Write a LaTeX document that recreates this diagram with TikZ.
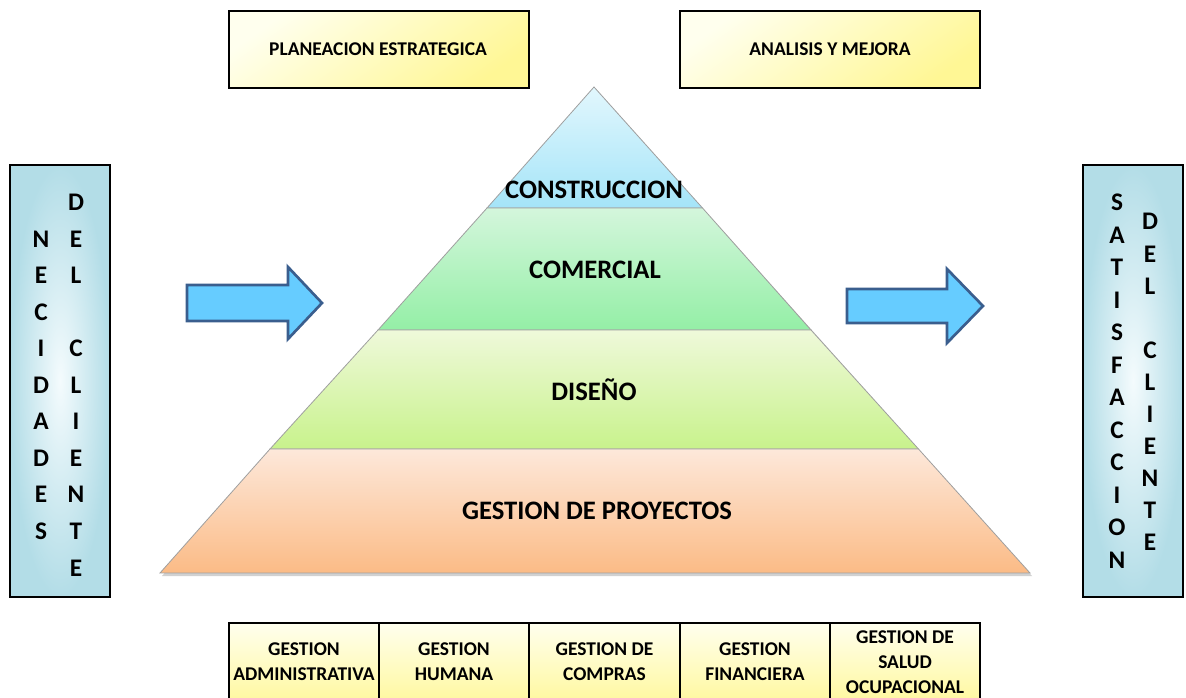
\documentclass[tikz,border=0pt]{standalone}
\usepackage{fontspec}
\setmainfont{Carlito}
\definecolor{yLight}{HTML}{FFFFEE}
\definecolor{yDeep}{HTML}{FFF795}
\definecolor{sideIn}{HTML}{F4FBFD}
\definecolor{sideOut}{HTML}{B3DDE7}
\definecolor{arrFill}{HTML}{66CCFF}
\definecolor{arrLine}{HTML}{3A5E8E}
\definecolor{cTop}{HTML}{E2F7FD}
\definecolor{cBot}{HTML}{A4E4F8}
\definecolor{gTop}{HTML}{D4F6DC}
\definecolor{gBot}{HTML}{94EFA6}
\definecolor{dTop}{HTML}{EFF9DA}
\definecolor{dBot}{HTML}{C8F28C}
\definecolor{pTop}{HTML}{FDE8DA}
\definecolor{pBot}{HTML}{FBBB86}
\begin{document}
\begin{tikzpicture}[x=0.75pt,y=-0.75pt,
  ybox/.style={draw=black, line width=1.5pt, top color=yLight, bottom color=yDeep, shading angle=35},
  sidebox/.style={draw=black, line width=1.5pt, inner color=sideIn, outer color=sideOut},
  bigarrow/.style={fill=arrFill, draw=arrLine, line width=2pt, line join=miter},
  band/.style={draw=gray!75, line width=0.6pt},
  plbl/.style={font=\fontsize{20}{24}\selectfont\bfseries, text height=12.8pt, text depth=0pt, inner sep=0pt},
  blbl/.style={font=\fontsize{14.6}{18.75}\selectfont\bfseries, align=center, inner sep=0pt},
  letter/.style={font=\fontsize{19}{22}\selectfont\bfseries, text height=12pt, text depth=0pt, inner sep=0pt}
]
\useasboundingbox (0,0) rectangle (1186,698);

% top boxes
\path[ybox] (229,11) rectangle (529,88);
\path[ybox] (680,11) rectangle (980,88);
\node[blbl] (plan) at (378,49) {PLANEACION ESTRATEGICA};
\node[blbl] (anal) at (830,49) {ANALISIS Y MEJORA};

% side boxes
\path[sidebox] (10,165) rectangle (110,597);
\path[sidebox] (1083,165) rectangle (1183,597);

% left letters
\foreach \c [count=\i] in {N,E,C,I,D,A,D,E,S}
  \node[letter] (la\i) at (41,{203+36.5*\i}) {\c};
\foreach \c [count=\i from 0] in {D,E,L}
  \node[letter] (lb\i) at (76,{203+36.5*\i}) {\c};
\foreach \c [count=\i from 4] in {C,L,I,E,N,T,E}
  \node[letter] (lb\i) at (76,{203+36.5*\i}) {\c};

% right letters
\foreach \c [count=\i from 0] in {S,A,T,I,S,F,A,C,C,I,O,N}
  \node[letter] (ra\i) at (1117,{203+32.5*\i}) {\c};
\foreach \c [count=\i from 0] in {D,E,L}
  \node[letter] (rb\i) at (1150,{222+32.1*\i}) {\c};
\foreach \c [count=\i from 4] in {C,L,I,E,N,T,E}
  \node[letter] (rb\i) at (1150,{222+32.1*\i}) {\c};

% arrows
\path[bigarrow] (187,285) -- (288,285) -- (288,267) -- (322,303) -- (288,339) -- (288,321) -- (187,321) -- cycle;
\path[bigarrow] (847,289) -- (947,289) -- (947,269) -- (983,306) -- (947,343) -- (947,323) -- (847,323) -- cycle;

% pyramid shadow
\fill[black, opacity=0.18] (596,89) -- (1032,576) -- (162,576) -- cycle;

% pyramid bands
\path[band, top color=cTop, bottom color=cBot] (594,87) -- (702.5,208) -- (487,208) -- cycle;
\path[band, top color=gTop, bottom color=gBot] (487,208) -- (702.5,208) -- (811,330) -- (378,330) -- cycle;
\path[band, top color=dTop, bottom color=dBot] (378,330) -- (811,330) -- (918.5,449) -- (270,449) -- cycle;
\path[band, top color=pTop, bottom color=pBot] (270,449) -- (918.5,449) -- (1030,573) -- (160,573) -- cycle;

\node[plbl] (constr) at (594,190) {CONSTRUCCION};
\node[plbl] (comer) at (595,270) {COMERCIAL};
\node[plbl] (dise) at (594,392) {DISEÑO};
\node[plbl] (gest) at (597,511) {GESTION DE PROYECTOS};

% bottom boxes
\foreach \xa/\xb in {229/379, 379/529, 529/680, 680/830, 830/980}
  \path[ybox, shading angle=0] (\xa,623) rectangle (\xb,712);
\node[blbl] (g1) at (304,662) {GESTION\\ADMINISTRATIVA};
\node[blbl] (g2) at (454,662) {GESTION\\HUMANA};
\node[blbl] (g3) at (604.5,662) {GESTION DE\\COMPRAS};
\node[blbl] (g4) at (755,662) {GESTION\\FINANCIERA};
\node[blbl] (g5) at (905,662) {GESTION DE\\SALUD\\OCUPACIONAL};
\end{tikzpicture}
\end{document}
